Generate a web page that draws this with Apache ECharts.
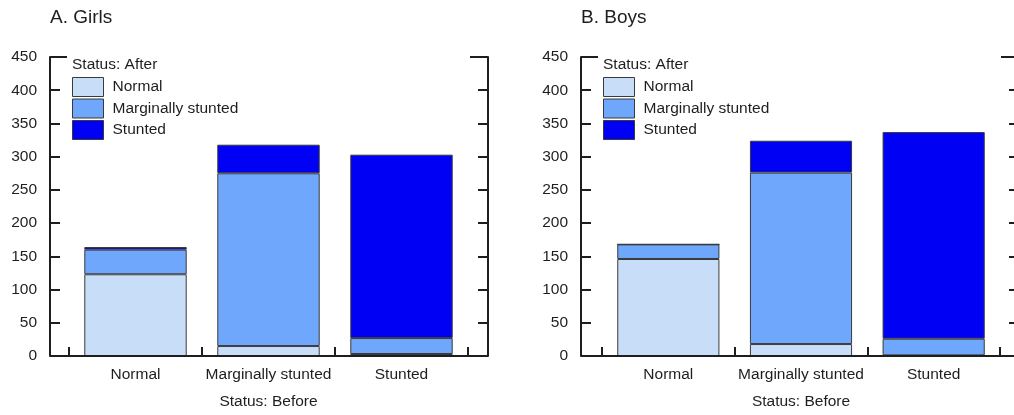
<!DOCTYPE html>
<html>
<head>
<meta charset="utf-8">
<script src="https://cdn.jsdelivr.net/npm/echarts@6/dist/echarts.min.js"></script>
<style>
  html, body { margin: 0; padding: 0; background: #fff; }
  #chart { width: 1014px; height: 415px; }
</style>
</head>
<body>
<div id="chart"></div>
<script>
// Status before (x categories) and status after (stacked segments)
const categories = ['Normal', 'Marginally stunted', 'Stunted'];
const statusAfter = ['Normal', 'Marginally stunted', 'Stunted'];

// Girls: counts by status after, per status before
const girlsNormal   = [123, 15, 3];
const girlsMarginal = [37, 260, 24];
const girlsStunted  = [4, 43, 276];

// Boys: counts by status after, per status before
const boysNormal   = [146, 18, 1];
const boysMarginal = [22, 258, 25];
const boysStunted  = [0, 48, 311];

const yMin = 0, yMax = 450, yStep = 50;

const FONT = '"Liberation Sans", Arial, sans-serif';
const INK = '#1e1e1e';
const COLORS = ['#C8DEF8', '#6EA7FB', '#0000F4'];
const BORDER = '#3a3a3a';

// Frame layout per panel: axisX = left axis line, catL/catR = category band
const TOP = 57, BASE = 356, FRAME_W = 438;
const panels = [
  { title: 'A. Girls', data: [girlsNormal, girlsMarginal, girlsStunted], axisX: 50, catL: 69, catR: 468 },
  { title: 'B. Boys',  data: [boysNormal, boysMarginal, boysStunted],   axisX: 581, catL: 602, catR: 1000 }
];

const txt = (size, extra) => Object.assign({ color: INK, fontSize: size, fontFamily: FONT, fontWeight: 'normal' }, extra || {});

const option = {
  animation: false,
  backgroundColor: '#fff',
  title: panels.flatMap(p => [
    { text: p.title, left: p.axisX, top: 8, padding: 0, textStyle: txt(19) },
    { text: 'Status: After', left: p.axisX + 22, top: 57, padding: 0, textStyle: txt(15.5) }
  ]),
  legend: panels.map(p => ({
    data: statusAfter,
    orient: 'vertical',
    left: p.axisX + 22,
    top: 77,
    padding: 0,
    itemWidth: 31,
    itemHeight: 19,
    itemGap: 1.5,
    icon: 'rect',
    selectedMode: false,
    itemStyle: { borderColor: BORDER, borderWidth: 1 },
    textStyle: txt(15.5, { padding: [0, 0, 0, 4] })
  })),
  grid: panels.map(p => ({
    left: p.catL, width: p.catR - p.catL, top: TOP, bottom: 415 - BASE,
    outerBoundsMode: 'none', containLabel: false
  })),
  xAxis: panels.map((p, i) => ({
    type: 'category',
    gridIndex: i,
    data: categories,
    boundaryGap: true,
    axisLine: { show: true, lineStyle: { color: INK, width: 2 } },
    axisTick: { show: true, inside: true, length: 9, interval: 0, lineStyle: { color: INK, width: 2 } },
    axisLabel: Object.assign(txt(15.5), { margin: 11, interval: 0 }),
    name: 'Status: Before',
    nameLocation: 'middle',
    nameGap: 38,
    nameTextStyle: txt(15.5),
    splitLine: { show: false }
  })),
  yAxis: panels.flatMap((p, i) => [
    {
      type: 'value', gridIndex: i, position: 'left', offset: p.catL - p.axisX,
      min: yMin, max: yMax, interval: yStep,
      axisLine: { show: true, lineStyle: { color: INK, width: 2 } },
      axisTick: { show: true, inside: true, length: 10, lineStyle: { color: INK, width: 2 } },
      axisLabel: Object.assign(txt(15.5), { margin: 13 }),
      splitLine: { show: false }
    },
    {
      type: 'value', gridIndex: i, position: 'right', offset: p.axisX + FRAME_W - p.catR,
      min: yMin, max: yMax, interval: yStep,
      axisLine: { show: true, lineStyle: { color: INK, width: 2 } },
      axisTick: { show: true, inside: true, length: 10, lineStyle: { color: INK, width: 2 } },
      axisLabel: { show: false },
      splitLine: { show: false }
    }
  ]),
  series: panels.flatMap((p, i) => statusAfter.map((name, k) => ({
    type: 'bar',
    name: name,
    xAxisIndex: i,
    yAxisIndex: 2 * i,
    stack: 'panel' + i,
    barWidth: '77%',
    data: p.data[k],
    itemStyle: { color: COLORS[k], borderColor: BORDER, borderWidth: 1 }
  }))),
  // baseline spanning the full frame, and the longer top ticks
  graphic: panels.flatMap(p => [
    { type: 'line', shape: { x1: p.axisX, y1: BASE, x2: p.axisX + FRAME_W, y2: BASE }, style: { stroke: INK, lineWidth: 2 }, z: 10 },
    { type: 'line', shape: { x1: p.axisX, y1: TOP, x2: p.axisX + 17, y2: TOP }, style: { stroke: INK, lineWidth: 2 }, z: 10 },
    { type: 'line', shape: { x1: p.axisX + FRAME_W - 18, y1: TOP, x2: p.axisX + FRAME_W, y2: TOP }, style: { stroke: INK, lineWidth: 2 }, z: 10 }
  ])
};

const chart = echarts.init(document.getElementById('chart'), null, { renderer: 'canvas' });
chart.setOption(option);
</script>
</body>
</html>
